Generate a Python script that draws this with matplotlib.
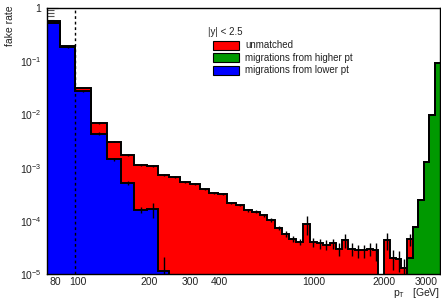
import numpy as np
import matplotlib
matplotlib.use("Agg")
import matplotlib.pyplot as plt
from matplotlib.patches import Rectangle

plt.rcParams["font.family"] = ["Liberation Sans", "DejaVu Sans"]
plt.rcParams["mathtext.fontset"] = "custom"
plt.rcParams["mathtext.rm"] = "Liberation Sans"

# pT bin edges (GeV)
edges = [74, 84, 97, 114, 133, 153, 174, 196, 220, 245, 272, 300, 330, 362, 395,
         430, 468, 507, 548, 592, 638, 686, 737, 790, 846, 905, 967, 1032, 1101,
         1172, 1248, 1327, 1410, 1497, 1588, 1684, 1784, 1890, 2000, 2116, 2238,
         2366, 2500, 2640, 2787, 2941, 3103, 3273, 3450]

# migrations from higher pt (green)
higher = [0] * 42 + [2.0e-5, 7.6e-5, 2.5e-4, 1.29e-3, 9.8e-3, 0.091]

# migrations from lower pt (blue)
lower = [0.53, 0.185, 0.0275, 0.0044, 0.00145, 5.2e-4, 1.6e-4, 1.65e-4, 1.15e-5] + [0] * 39
lower_err = [0.01, 0.004, 0.001, 2e-4, 1e-4, 5e-5, 2e-5, 5e-5, 1.0e-5] + [0] * 39

# unmatched (red)
unmatched = [0.03, 0.006, 0.0038, 0.0025, 0.00165, 0.00122, 9.6e-4, 9.05e-4,
             7.1e-4, 6.6e-4, 5.4e-4, 4.9e-4, 4.0e-4, 3.4e-4, 3.2e-4, 2.2e-4,
             2.0e-4, 1.58e-4, 1.5e-4, 1.28e-4, 1.04e-4, 7.5e-5, 5.8e-5, 4.7e-5,
             4.1e-5, 8.9e-5, 4.1e-5, 3.8e-5, 3.6e-5, 3.8e-5, 3.0e-5, 4.4e-5,
             3.0e-5, 2.8e-5, 2.8e-5, 3.0e-5, 2.8e-5, 0, 4.4e-5, 2.0e-5, 1.9e-5,
             1.3e-5, 2.6e-5, 0, 0, 0, 0, 0]
unmatched_err = [0.005, 0.002, 5e-4, 2e-4, 1e-4, 6e-5, 4e-5, 4e-5, 3e-5, 3e-5,
                 2e-5, 2e-5, 2e-5, 1.5e-5, 1.5e-5, 1e-5, 1e-5, 1e-5, 1e-5, 1e-5,
                 8e-6, 7e-6, 7e-6, 6e-6, 6e-6, 3.4e-5, 8e-6, 8e-6, 8e-6, 8e-6,
                 8e-6, 1.3e-5, 8e-6, 8e-6, 8e-6, 8e-6, 1e-5, 0, 1.5e-5, 8e-6,
                 8e-6, 6e-6, 1.2e-5, 0, 0, 0, 0, 0]

edges = np.array(edges, float)
centers = 0.5 * (edges[:-1] + edges[1:])
floor = 1e-8

fig = plt.figure(figsize=(4.41, 2.99), dpi=100)
W, H = 441, 299
ax = fig.add_axes([47 / W, 1 - 274.3 / H, (440 - 47) / W, (274.3 - 8) / H])

layers = [(higher, None, "#009900"), (lower, lower_err, "#0000ff"),
          (unmatched, unmatched_err, "#ff0000")]
base = np.zeros(len(centers))
for vals, errs, col in layers:
    top = base + np.array(vals, float)
    ax.stairs(np.maximum(top, floor), edges, baseline=np.maximum(base, floor),
              fill=True, color=col, lw=0, zorder=1)
    base = top
base = np.zeros(len(centers))
for vals, errs, col in layers:
    v = np.array(vals, float)
    top = base + v
    ax.stairs(np.maximum(top, floor), edges, baseline=None, color="black",
              lw=1.4, zorder=3)
    if errs is not None:
        e = np.array(errs, float)
        m = v > 0
        ax.vlines(centers[m], np.maximum(top[m] - e[m], floor), top[m] + e[m],
                  color="black", lw=1.0, zorder=3)
    base = top

ax.axvline(97, color="black", lw=1.0, ls=(0, (2, 2)), zorder=4)

ax.set_xscale("log")
ax.set_yscale("log")
ax.set_xlim(74, 3450)
ax.set_ylim(1e-5, 1)
ax.set_axisbelow(True)

xt = [80, 100, 200, 300, 400, 1000, 2000, 3000]
ax.set_xticks(xt)
ax.set_xticklabels([str(v) for v in xt])
ax.xaxis.set_minor_locator(matplotlib.ticker.NullLocator())
ax.tick_params(axis="x", which="both", length=0, labelsize=7.5, pad=2, colors="#222222")

yt = [1e-5, 1e-4, 1e-3, 1e-2, 1e-1, 1]
ax.set_yticks(yt)
ax.set_yticklabels([r"10$^{\mathregular{-%d}}$" % k for k in range(5, 0, -1)] + ["1"])
ax.set_yticks([0.6, 0.7, 0.8, 0.9], minor=True)
ax.yaxis.set_minor_formatter(matplotlib.ticker.NullFormatter())
ax.tick_params(axis="y", which="major", direction="in", length=8, labelsize=7.5,
               pad=4, colors="#222222")
ax.tick_params(axis="y", which="minor", direction="in", length=5, width=0.8,
               color="#555555")

for s in ax.spines.values():
    s.set_linewidth(1.0)
    s.set_zorder(5)

fig.text(10 / W, 1 - 5 / H, "fake rate", rotation=90, ha="center", va="top",
         fontsize=7.5, color="#222222")
fig.text(440 / W, 1 - 296 / H, r"p$_{\mathregular{T}}$   [GeV]", ha="right",
         va="baseline", fontsize=7.5, color="#222222")

# legend
fig.text(208 / W, 1 - 32 / H, "|y| < 2.5", ha="left", va="center", fontsize=7,
         color="#222222")
leg = [("unmatched", "#ff0000"), ("migrations from higher pt", "#009900"),
       ("migrations from lower pt", "#0000ff")]
for i, (lab, col) in enumerate(leg):
    yc = 45 + i * 12.6
    fig.patches.append(Rectangle((213 / W, 1 - (yc + 4.5) / H), 26 / W, 9 / H,
                                 transform=fig.transFigure, facecolor=col,
                                 edgecolor="black", lw=0.8))
    fig.text(245 / W, 1 - yc / H, lab, ha="left", va="center", fontsize=7,
             color="#222222")

fig.savefig("out.png", dpi=100)
